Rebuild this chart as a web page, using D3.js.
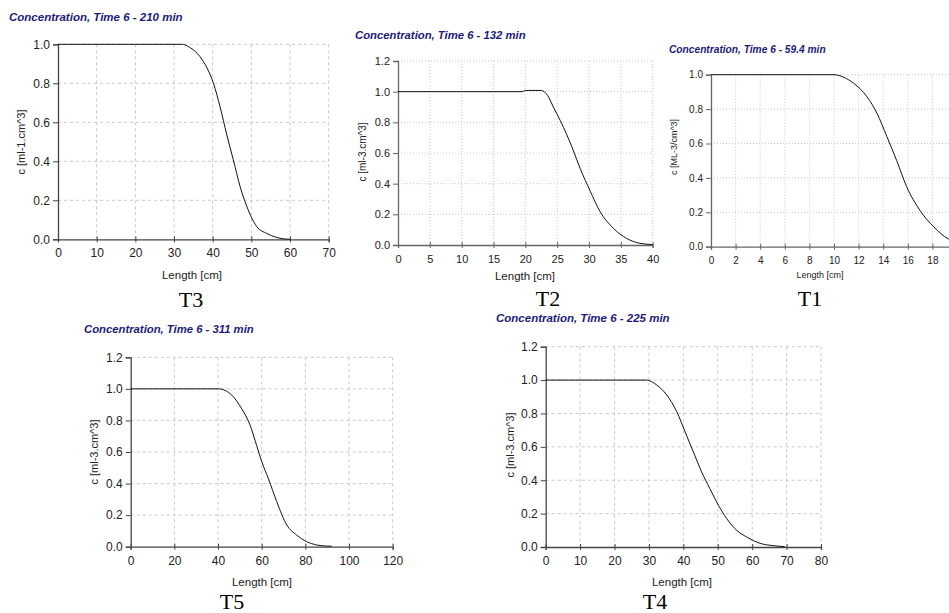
<!DOCTYPE html>
<html lang="en">
<head>
<meta charset="utf-8">
<title>concentration profiles</title>
<script src="https://d3js.org/d3.v7.min.js"></script>
<style type="text/css">
  body { margin: 0; background: #fff; }
  .title { font-family: "Liberation Sans", Arial, sans-serif; font-weight: bold; font-style: italic; fill: #1b1b7a; }
  .lbl { font-family: "Liberation Sans", Arial, sans-serif; fill: #222; }
  .tick text { font-family: "Liberation Sans", Arial, sans-serif; fill: #222; }
  .curve { fill: none; stroke: #111; stroke-width: 1px; }
  .tag { font-family: "Liberation Serif", "Times New Roman", serif; font-size: 22px; fill: #000; }
</style>
</head>
<body>
<script type="text/javascript">

// data: length [cm] and concentration c
var t3Len = [0, 32, 34, 36.7, 38.5, 40.2, 41.9, 43.6, 45.3, 47.1, 48.8, 51.4, 54, 56.6, 58, 60];
var t3C   = [1, 1, 0.985, 0.937, 0.88, 0.80, 0.68, 0.54, 0.41, 0.27, 0.17, 0.065, 0.03, 0.009, 0.003, 0];

var t2Len = [0, 19.5, 20, 22.5, 23.5, 24.4, 25.5, 26.5, 27.5, 28.6, 30.2, 31.7, 33.8, 35.9, 38, 40];
var t2C   = [1, 1, 1.008, 1.008, 0.975, 0.9, 0.81, 0.72, 0.62, 0.5, 0.35, 0.22, 0.11, 0.043, 0.011, 0.003];

var t1Len = [0, 10, 10.8, 11.6, 12.7, 13.5, 14.3, 15.1, 15.9, 17.0, 18.1, 19.3, 20];
var t1C   = [1, 1, 0.985, 0.95, 0.87, 0.775, 0.64, 0.50, 0.35, 0.21, 0.116, 0.045, 0.025];

var t5Len = [0, 40.2, 46.3, 50.8, 54.7, 57.7, 60, 63.1, 66.9, 71.5, 76, 80.6, 85.2, 89.8, 92];
var t5C   = [1, 1, 0.96, 0.875, 0.77, 0.64, 0.54, 0.43, 0.285, 0.137, 0.074, 0.032, 0.011, 0.004, 0.003];

var t4Len = [0, 29.3, 32.3, 35.2, 38.1, 40.5, 42.9, 45.3, 47.7, 50.2, 52.6, 55.5, 58.4, 62.3, 66.1, 69.5];
var t4C   = [1, 1, 0.97, 0.91, 0.81, 0.69, 0.57, 0.45, 0.35, 0.25, 0.17, 0.10, 0.06, 0.022, 0.008, 0.002];

// tick labels
var ticks70 = [0, 10, 20, 30, 40, 50, 60, 70];
var ticks40 = [0, 5, 10, 15, 20, 25, 30, 35, 40];
var ticks20 = [0, 2, 4, 6, 8, 10, 12, 14, 16, 18, 20];
var ticks120 = [0, 20, 40, 60, 80, 100, 120];
var ticks80 = [0, 10, 20, 30, 40, 50, 60, 70, 80];
var yTicks10 = [0, 0.2, 0.4, 0.6, 0.8, 1.0];
var yTicks12 = [0, 0.2, 0.4, 0.6, 0.8, 1.0, 1.2];

var titles = ["Concentration, Time 6 - 210 min", "Concentration, Time 6 - 132 min",
              "Concentration, Time 6 - 59.4 min", "Concentration, Time 6 - 311 min",
              "Concentration, Time 6 - 225 min"];
var yLabels = ["c [ml-1.cm^3]", "c [ml-3.cm^3]", "c [ML-3/cm^3]", "c [ml-3.cm^3]", "c [ml-3.cm^3]"];
var tags = ["T3", "T2", "T1", "T5", "T4"];

var w = 949;
var h = 613;

var svg = d3.select("body")
            .append("svg")
            .attr("width", w)
            .attr("height", h);

svg.append("rect").attr("width", w).attr("height", h).attr("fill", "#fff");

// panel layout (pixel boxes)
var panels = [
  {len: t3Len, c: t3C, xt: ticks70, yt: yTicks10, x0: 58, x1: 328.7, yTop: 44.3, yBot: 239.3,
   title: [9, 21], tsize: 11.5, fs: 12, ylab: [21, 142], xlab: [192, 279], tag: [191, 307], dash: "3,3", ax: "#444"},
  {len: t2Len, c: t2C, xt: ticks40, yt: yTicks12, x0: 398, x1: 652.7, yTop: 61, yBot: 245,
   title: [355, 39], tsize: 11.3, fs: 11, ylab: [362, 152], xlab: [525, 280], tag: [548, 306], dash: "1,2", ax: "#666"},
  {len: t1Len, c: t1C, xt: ticks20, yt: yTicks10, x0: 711, x1: 957, yTop: 74.7, yBot: 246.7,
   title: [669, 53], tsize: 10.2, fs: 10, ylab: [674, 147], xlab: [820, 278], tag: [810, 306], dash: "1,2", ax: "#666"},
  {len: t5Len, c: t5C, xt: ticks120, yt: yTicks12, x0: 130.7, x1: 392.7, yTop: 357.3, yBot: 546.7,
   title: [84, 333], tsize: 11.3, fs: 12, ylab: [94, 452], xlab: [262, 586], tag: [232, 609], dash: "3,3", ax: "#444"},
  {len: t4Len, c: t4C, xt: ticks80, yt: yTicks12, x0: 545.7, x1: 821, yTop: 346.7, yBot: 547,
   title: [496, 322], tsize: 11.5, fs: 12, ylab: [510, 445], xlab: [682, 586], tag: [655, 609], dash: "3,3", ax: "#444"}
];

panels.forEach(function(p, i) {

  var xScale = d3.scaleLinear()
                 .domain([0, d3.max(p.xt)])
                 .range([p.x0, p.x1]);

  var yScale = d3.scaleLinear()
                 .domain([0, d3.max(p.yt)])
                 .range([p.yBot, p.yTop]);

  var g = svg.append("g");

  // grid
  g.selectAll(".vgrid").data(p.xt.slice(1)).enter()
   .append("line")
   .attr("x1", d => xScale(d)).attr("x2", d => xScale(d))
   .attr("y1", p.yTop).attr("y2", p.yBot)
   .attr("stroke", "#c8c8c8").attr("stroke-dasharray", p.dash);

  g.selectAll(".hgrid").data(p.yt.slice(1)).enter()
   .append("line")
   .attr("x1", p.x0).attr("x2", p.x1)
   .attr("y1", d => yScale(d)).attr("y2", d => yScale(d))
   .attr("stroke", "#c8c8c8").attr("stroke-dasharray", p.dash);

  // axes
  var xAxis = d3.axisBottom(xScale)
                .tickValues(p.xt)
                .tickSize(3)
                .tickPadding(8)
                .tickFormat(d3.format("d"));

  var xg = g.append("g")
            .attr("transform", `translate(0, ${p.yBot})`)
            .call(xAxis);
  xg.selectAll(".tick line").attr("y1", -3);

  var yAxis = d3.axisLeft(yScale)
                .tickValues(p.yt)
                .tickSize(5)
                .tickPadding(3)
                .tickFormat(d3.format(".1f"));

  var yg = g.append("g")
            .attr("transform", `translate(${p.x0}, 0)`)
            .call(yAxis);

  [xg, yg].forEach(function(a) {
    a.select(".domain").attr("stroke", p.ax).attr("stroke-width", 1.3);
    a.selectAll(".tick line").attr("stroke", p.ax);
    a.selectAll(".tick text").attr("font-size", p.fs + "px");
  });
  xg.selectAll(".tick text").attr("dy", "0.6em");

  // curve
  var lineGen = d3.line()
                  .x((d, j) => xScale(d))
                  .y((d, j) => yScale(p.c[j]))
                  .curve(d3.curveMonotoneX);

  g.append("path")
   .datum(p.len)
   .attr("class", "curve")
   .attr("d", lineGen);

  // texts
  g.append("text")
   .attr("class", "title")
   .attr("x", p.title[0]).attr("y", p.title[1])
   .attr("font-size", p.tsize + "px")
   .text(titles[i]);

  g.append("text")
   .attr("class", "lbl")
   .attr("transform", `translate(${p.ylab[0]}, ${p.ylab[1]}) rotate(-90)`)
   .attr("text-anchor", "middle")
   .attr("dy", "0.35em")
   .attr("font-size", (p.fs - 1) + "px")
   .text(yLabels[i]);

  g.append("text")
   .attr("class", "lbl")
   .attr("x", p.xlab[0]).attr("y", p.xlab[1])
   .attr("text-anchor", "middle")
   .attr("font-size", (i == 2 ? 9 : 11.5) + "px")
   .text("Length [cm]");

  g.append("text")
   .attr("class", "tag")
   .attr("x", p.tag[0]).attr("y", p.tag[1])
   .attr("text-anchor", "middle")
   .text(tags[i]);
});

</script>
</body>
</html>
